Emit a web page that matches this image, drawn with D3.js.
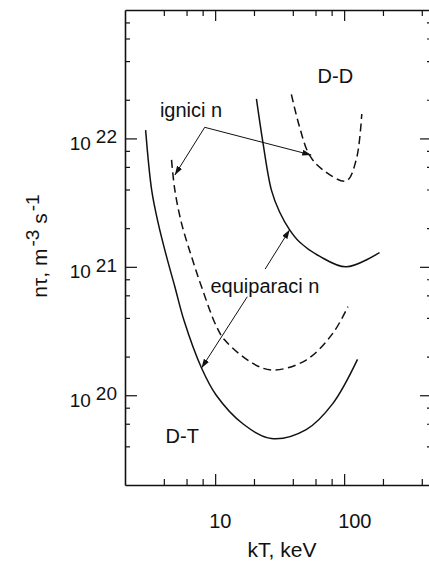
<!DOCTYPE html>
<html lang="en">
  <head>
    <meta charset="utf-8" />
    <title>n tau vs kT</title>
    <script src="https://d3js.org/d3.v7.min.js" charset="utf-8"></script>
    <style>
      body { margin: 0; background: #fff; }
      svg text { font-family: "Liberation Sans", Arial, sans-serif; fill: #111; }
    </style>
  </head>
  <body>
    <div id="graph-container"></div>
    <script type="text/javascript">
      // kT in keV, n*tau in m^-3 s
      // solid = equipartition, dashed = ignition
      const dtEquiT = [2.89, 3.22, 3.62, 4.2, 4.87, 5.72, 7.84, 10.2, 16.4, 27.3, 50.8, 81.6, 127];
      const dtEquiNt = [1.16e22, 3.96e21, 2.18e21, 1.2e21, 7.0e20, 3.85e20, 1.63e20, 1.0e20, 6.0e19, 4.6e19, 5.4e19, 8.6e19, 1.9e20];

      const dtIgnT = [4.59, 4.87, 5.49, 6.56, 7.84, 10.2, 11.87, 19.6, 28.1, 50.8, 81.6, 107];
      const dtIgnNt = [6.8e21, 3.96e21, 2.18e21, 1.2e21, 7.0e20, 3.46e20, 2.69e20, 1.77e20, 1.57e20, 1.88e20, 3.03e20, 4.9e20];

      const ddEquiT = [20.9, 23.5, 27.3, 31.6, 37.8, 45.1, 64.4, 103.6, 188];
      const ddEquiNt = [2.03e22, 9.2e21, 3.96e21, 2.67e21, 1.94e21, 1.56e21, 1.21e21, 1.0e21, 1.29e21];

      const ddIgnT = [39, 45.1, 53.9, 68.3, 103.6, 124, 137];
      const ddIgnNt = [2.2e22, 1.23e22, 7.4e21, 5.7e21, 4.66e21, 6.8e21, 1.55e22];

      const xMajorTicks = [10, 100];
      const xMinorTicks = [4, 6, 8, 20, 40, 60, 80, 200, 400];
      const xTickLabels = ["10", "100"];
      const yMajorTicks = [1e20, 1e21, 1e22];
      const yMinorTicks = [4e19, 6e19, 8e19, 2e20, 4e20, 6e20, 8e20, 2e21, 4e21, 6e21, 8e21, 2e22, 4e22, 6e22, 8e22];
      const yTickExp = ["20", "21", "22"];

      // annotation anchors, in data units [kT, n*tau]
      const ignLabel = [3.73, 1.48e22];
      const ignFrom = [8.3, 1.22e22];
      const ignTips = [[4.87, 5.19e21], [55.6, 7.43e21]];
      const equiLabel = [9.2, 6.25e20];
      const equiFrom = [[24.4, 9.6e20], [17.75, 5.85e20]];
      const equiTips = [[37.8, 1.94e21], [7.84, 1.63e20]];
      const ddLabel = [62.2, 2.7e22];
      const dtLabel = [4.13, 4.25e19];

      const cW = 429, cH = 569;
      const cLeft = 125, cRight = 432, cTop = 10, cBottom = 485;

      const svg = d3.select("#graph-container").append("svg")
        .attr("width", cW).attr("height", cH);
      svg.append("rect").attr("width", cW).attr("height", cH).attr("fill", "#fff");

      const x = d3.scaleLog().domain([2, 480]).range([cLeft, cRight]);
      const y = d3.scaleLog().domain([2e19, 1e23]).range([cBottom, cTop]);

      function drawAxis(axis, tx, ty, keepDomain) {
        const g = svg.append("g").attr("transform", `translate(${tx},${ty})`)
          .call(axis.tickFormat("").tickSizeOuter(0));
        g.selectAll(".tick line").attr("stroke", "#111").attr("stroke-width", 1.2);
        if (keepDomain) g.select(".domain").attr("stroke", "#111").attr("stroke-width", 1.6);
        else g.select(".domain").remove();
      }

      // left / right / bottom / top frame, ticks pointing inward
      drawAxis(d3.axisRight(y).tickValues(yMajorTicks).tickSize(12), cLeft, 0, true);
      drawAxis(d3.axisRight(y).tickValues(yMinorTicks).tickSize(5), cLeft, 0, false);
      drawAxis(d3.axisLeft(y).tickValues(yMajorTicks).tickSize(12), cRight, 0, true);
      drawAxis(d3.axisLeft(y).tickValues(yMinorTicks).tickSize(5), cRight, 0, false);
      drawAxis(d3.axisTop(x).tickValues(xMajorTicks).tickSize(11), 0, cBottom, true);
      drawAxis(d3.axisTop(x).tickValues(xMinorTicks).tickSize(6), 0, cBottom, false);
      drawAxis(d3.axisBottom(x).tickValues(xMajorTicks).tickSize(11), 0, cTop, true);
      drawAxis(d3.axisBottom(x).tickValues(xMinorTicks).tickSize(6), 0, cTop, false);

      // tick labels
      svg.selectAll(".xlab").data(xMajorTicks).enter().append("text")
        .attr("class", "xlab")
        .attr("x", (d) => x(d) - 6)
        .attr("y", 528)
        .attr("font-size", 20)
        .text((d, i) => xTickLabels[i]);

      const yl = svg.selectAll(".ylab").data(yMajorTicks).enter().append("text")
        .attr("class", "ylab")
        .attr("text-anchor", "end")
        .attr("x", 117)
        .attr("y", (d) => y(d) + 11.5)
        .attr("font-size", 19);
      yl.append("tspan").text("10");
      yl.append("tspan").attr("dx", 5).attr("dy", -6.5).text((d, i) => yTickExp[i]);

      // axis titles
      svg.append("text").attr("x", 282).attr("y", 557)
        .attr("text-anchor", "middle").attr("font-size", 21)
        .text("kT, keV");

      const yt = svg.append("text")
        .attr("transform", "translate(47,246) rotate(-90)")
        .attr("text-anchor", "middle").attr("font-size", 21);
      yt.append("tspan").text("n\u03c4, m");
      yt.append("tspan").attr("dx", 2).attr("dy", -8).attr("font-size", 19).text("-3");
      yt.append("tspan").attr("dy", 8).text(" s");
      yt.append("tspan").attr("dx", 2).attr("dy", -8).attr("font-size", 19).text("-1");

      // curves
      const line = d3.line()
        .x((d) => x(d[0]))
        .y((d) => y(d[1]))
        .curve(d3.curveCatmullRom.alpha(0.5));

      const curves = [
        { t: dtEquiT, nt: dtEquiNt, dash: null },
        { t: dtIgnT, nt: dtIgnNt, dash: "8,4.5" },
        { t: ddEquiT, nt: ddEquiNt, dash: null },
        { t: ddIgnT, nt: ddIgnNt, dash: "8,4.5" },
      ];
      svg.selectAll(".curve").data(curves).enter().append("path")
        .attr("class", "curve")
        .attr("d", (c) => line(c.t.map((t, i) => [t, c.nt[i]])))
        .attr("fill", "none")
        .attr("stroke", "#111")
        .attr("stroke-width", 1.5)
        .attr("stroke-dasharray", (c) => c.dash);

      // arrows
      svg.append("defs").append("marker")
        .attr("id", "head")
        .attr("markerUnits", "userSpaceOnUse")
        .attr("markerWidth", 10).attr("markerHeight", 8)
        .attr("refX", 9).attr("refY", 3)
        .attr("orient", "auto")
        .append("path").attr("d", "M0,0 L9,3 L0,6 Z").attr("fill", "#111");

      const arrows = [
        [ignFrom, ignTips[0]],
        [ignFrom, ignTips[1]],
        [equiFrom[0], equiTips[0]],
        [equiFrom[1], equiTips[1]],
      ];
      svg.selectAll(".arrow").data(arrows).enter().append("line")
        .attr("class", "arrow")
        .attr("x1", (a) => x(a[0][0])).attr("y1", (a) => y(a[0][1]))
        .attr("x2", (a) => x(a[1][0])).attr("y2", (a) => y(a[1][1]))
        .attr("stroke", "#111").attr("stroke-width", 1)
        .attr("marker-end", "url(#head)");

      // labels
      const labels = [
        { p: ignLabel, s: "ignici n" },
        { p: equiLabel, s: "equiparaci n" },
        { p: ddLabel, s: "D-D" },
        { p: dtLabel, s: "D-T" },
      ];
      svg.selectAll(".lab").data(labels).enter().append("text")
        .attr("class", "lab")
        .attr("x", (l) => x(l.p[0]))
        .attr("y", (l) => y(l.p[1]))
        .attr("font-size", 20)
        .text((l) => l.s);
    </script>
  </body>
</html>
